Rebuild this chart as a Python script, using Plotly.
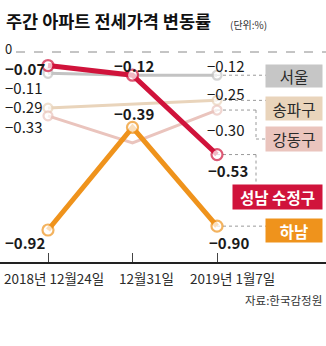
import plotly.graph_objects as go

# Weekly jeonse (rent deposit) price change, %
dates = ["2018년 12월24일", "12월31일", "2019년 1월7일"]
seoul = [-0.11, -0.12, -0.12]
songpa = [-0.29, -0.27, -0.25]
gangdong = [-0.33, -0.47, -0.30]
seongnam = [-0.07, -0.12, -0.53]
hanam = [-0.92, -0.39, -0.90]

RED = "#d0133b"
ORANGE = "#ef931c"
GRAY = "#c3c3c3"
BEIGE = "#e9d4bb"
PINK = "#eac4bd"
FONT = "Noto Sans CJK KR"

W, H = 326, 346
PLOT_H = 262           # plot area height (x axis line sits at its bottom)
X_PX = 84.5            # pixels per category step
X0 = -48 / X_PX
X1 = X0 + W / X_PX
Y_PX = 193.5           # pixels per 1 %p
Y1 = 52 / Y_PX
Y0 = Y1 - PLOT_H / Y_PX

xs = [0, 1, 2]


def px_to_x(px):
    return X0 + px / X_PX


def py_to_y(py):
    return Y1 - py / Y_PX


def py_to_paper(py):
    return (PLOT_H - py) / PLOT_H


fig = go.Figure()


def add_series(vals, color, width, msize, ends_only):
    sizes = [msize, 0, msize] if ends_only else [msize] * 3
    fig.add_trace(go.Scatter(
        x=xs, y=vals, mode="lines+markers",
        line=dict(color=color, width=width),
        marker=dict(size=sizes, color="white", line=dict(color=color, width=2.2)),
        hoverinfo="skip", showlegend=False, cliponaxis=False,
    ))


add_series(seoul, GRAY, 3, 9, True)
add_series(songpa, BEIGE, 3, 9, True)
add_series(gangdong, PINK, 3, 9, True)
add_series(hanam, ORANGE, 5, 11, False)
add_series(seongnam, RED, 5, 11, False)

shapes = []
# zero reference line
shapes.append(dict(type="line", xref="x", yref="y", x0=px_to_x(16), x1=px_to_x(326),
                   y0=0, y1=0, line=dict(color="#8a8a8a", width=1, dash="dash"), layer="below"))

dot = dict(color="#9a9a9a", width=1, dash="dot")
XB = px_to_x(266)    # left edge of the name boxes
XV = px_to_x(256)    # vertical leader column
shapes.append(dict(type="line", x0=2, x1=XB, y0=seoul[2], y1=seoul[2], line=dot, layer="below"))
shapes.append(dict(type="line", x0=2, x1=XB, y0=songpa[2], y1=songpa[2], line=dot, layer="below"))
shapes.append(dict(type="line", x0=2, x1=XV, y0=gangdong[2], y1=gangdong[2], line=dot, layer="below"))
shapes.append(dict(type="line", x0=XV, x1=XV, y0=gangdong[2], y1=py_to_y(139), line=dot, layer="below"))
shapes.append(dict(type="line", x0=XV, x1=XB, y0=py_to_y(139), y1=py_to_y(139), line=dot, layer="below"))
shapes.append(dict(type="line", x0=2, x1=XV, y0=seongnam[2], y1=seongnam[2], line=dot, layer="below"))
shapes.append(dict(type="line", x0=XV, x1=XV, y0=seongnam[2], y1=py_to_y(184), line=dot, layer="below"))
shapes.append(dict(type="line", x0=2, x1=XB, y0=hanam[2], y1=hanam[2], line=dot, layer="below"))

ann = []


def num(x, y, text, bold=False, xanchor="center", xshift=0, yshift=0, xref="x", size=15):
    ann.append(dict(x=x, y=y, xref=xref, yref="y", text=f"<b>{text}</b>" if bold else text,
                    showarrow=False, xanchor=xanchor, yanchor="middle",
                    xshift=xshift, yshift=yshift,
                    font=dict(family=FONT, size=size, color="#1a1a1a")))


def fmt(v):
    return f"−{abs(v):.2f}" if v < 0 else f"{v:.2f}"


# left column of start values
LX = 3 / W
num(LX, 0, "0", xanchor="left", xref="paper", size=13, yshift=4)
num(LX, seongnam[0], fmt(seongnam[0]), bold=True, xanchor="left", xref="paper", yshift=-3)
num(LX, seoul[0], fmt(seoul[0]), xanchor="left", xref="paper", yshift=-14)
num(LX, songpa[0], fmt(songpa[0]), xanchor="left", xref="paper", yshift=2)
num(LX, gangdong[0], fmt(gangdong[0]), xanchor="left", xref="paper", yshift=-11)
num(LX, hanam[0], fmt(hanam[0]), bold=True, xanchor="left", xref="paper", yshift=-12)

# middle values
num(1, seongnam[1], fmt(seongnam[1]), bold=True, xshift=1, yshift=10)
num(1, hanam[1], fmt(hanam[1]), bold=True, xshift=1, yshift=14)

# end values
num(2, seoul[2], fmt(seoul[2]), xshift=8, yshift=10)
num(2, songpa[2], fmt(songpa[2]), xshift=8, yshift=7)
num(2, gangdong[2], fmt(gangdong[2]), xshift=8, yshift=-19)
num(2, seongnam[2], fmt(seongnam[2]), bold=True, xshift=11, yshift=-16)
num(2, hanam[2], fmt(hanam[2]), bold=True, xshift=12, yshift=-16)


def box(text, x0, x1, y0, y1, bg, fg, bold=False):
    ann.append(dict(x=(x0 + x1) / 2 / W, y=py_to_paper((y0 + y1) / 2), xref="paper", yref="paper",
                    text=f"<b>{text}</b>" if bold else text, showarrow=False,
                    width=x1 - x0, height=y1 - y0, bgcolor=bg, borderpad=0,
                    xanchor="center", yanchor="middle",
                    font=dict(family=FONT, size=15.5, color=fg)))


box("서울", 266, 322, 65, 87, "#c6c6c6", "#2a2a2a")
box("송파구", 266, 322, 97, 120, BEIGE, "#2a2a2a")
box("강동구", 266, 322, 127, 151, PINK, "#2a2a2a")
box("성남 수정구", 233, 322, 185, 209, RED, "white", bold=True)
box("하남", 266, 322, 219, 242, ORANGE, "white", bold=True)

# x tick labels
for i, (lab, dx) in enumerate(zip(dates, [6, 14, 15])):
    ann.append(dict(x=i, y=py_to_paper(278), xref="x", yref="paper", text=lab, showarrow=False,
                    xanchor="center", yanchor="middle", xshift=dx,
                    font=dict(family=FONT, size=13.5, color="#2a2a2a")))

# title, unit and source
ann.append(dict(x=4 / W, y=py_to_paper(21), xref="paper", yref="paper",
                text="<b>주간 아파트 전세가격 변동률</b>", showarrow=False, xanchor="left", yanchor="middle",
                font=dict(family=FONT, size=17.5, color="#111111")))
ann.append(dict(x=228 / W, y=py_to_paper(24), xref="paper", yref="paper",
                text="(단위:%)", showarrow=False, xanchor="left", yanchor="middle",
                font=dict(family=FONT, size=10, color="#333333")))
ann.append(dict(x=324 / W, y=py_to_paper(300), xref="paper", yref="paper",
                text="자료:한국감정원", showarrow=False, xanchor="right", yanchor="middle",
                font=dict(family=FONT, size=11.5, color="#333333")))

fig.update_layout(
    width=W, height=H,
    margin=dict(l=0, r=0, t=0, b=H - PLOT_H, pad=0),
    paper_bgcolor="white", plot_bgcolor="white",
    shapes=shapes, annotations=ann,
    xaxis=dict(range=[X0, X1], showgrid=False, zeroline=False,
               showline=True, linecolor="#222222", linewidth=1.5,
               tickvals=xs, ticktext=["", "", ""], ticks="inside", ticklen=9,
               tickcolor="#444444", tickwidth=1, fixedrange=True),
    yaxis=dict(range=[Y0, Y1], visible=False, fixedrange=True),
)

fig.write_html("out.html")
